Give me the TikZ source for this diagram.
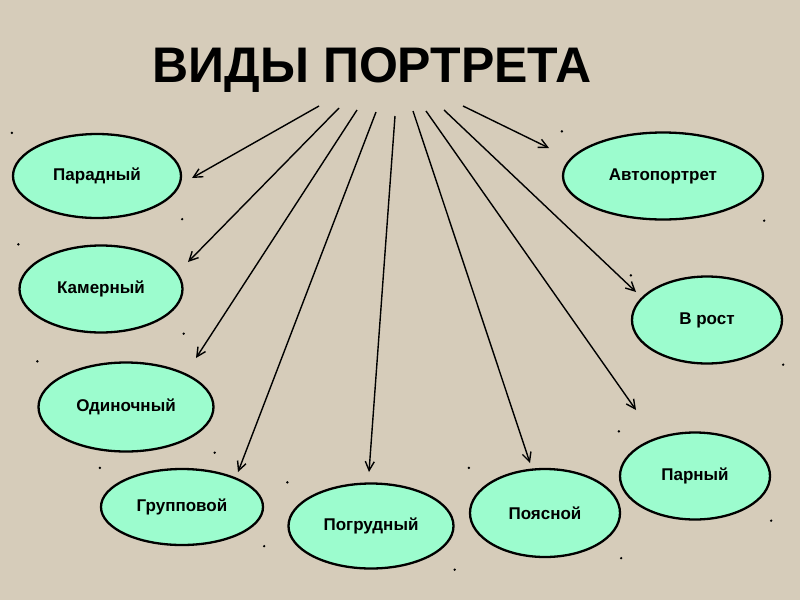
\documentclass[tikz,border=0pt]{standalone}
\usepackage{fontspec}
\setmainfont{Liberation Sans}
\usetikzlibrary{shapes.geometric,arrows.meta}
\definecolor{bgbeige}{RGB}{214,204,186}
\definecolor{aqua}{RGB}{156,252,206}
\tikzset{
  oval/.style={ellipse,draw=black,line width=2.3pt,fill=aqua,inner sep=0pt,
     font=\fontsize{17}{20}\selectfont\bfseries},
  ray/.style={draw=black,line width=1.4pt,-{Straight Barb[length=9pt,width=9pt,line width=1.4pt]}},
  handle/.style={fill=black,circle,inner sep=0pt,minimum size=2.6pt}
}
\begin{document}
\begin{tikzpicture}[x=1pt,y=-1pt]
\fill[bgbeige] (0,0) rectangle (800,600);
\useasboundingbox (0,0) rectangle (800,600);

\node[font=\fontsize{50}{58}\selectfont\bfseries] (title) at (372,70) {ВИДЫ ПОРТРЕТА};

\node[oval,minimum width=168,minimum height=84] (parad) at (97,176) {Парадный};
\node[oval,minimum width=163,minimum height=87] (kamer) at (101,289) {Камерный};
\node[oval,minimum width=175,minimum height=89] (odin) at (126,407) {Одиночный};
\node[oval,minimum width=162,minimum height=76] (grupp) at (182,507) {Групповой};
\node[oval,minimum width=165,minimum height=85] (pogr) at (371,526) {Погрудный};
\node[oval,minimum width=150,minimum height=88] (poyas) at (545,513) {Поясной};
\node[oval,minimum width=150,minimum height=87] (parn) at (695,476) {Парный};
\node[oval,minimum width=150,minimum height=87] (vrost) at (707,320) {В рост};
\node[oval,minimum width=200,minimum height=87] (avto) at (663,176) {Автопортрет};

\foreach \n in {parad,kamer,odin,grupp,pogr,poyas,parn,vrost,avto}{
  \node[handle] at (\n.west |- \n.north) {};
  \node[handle] at (\n.east |- \n.south) {};
}

\coordinate (s1) at (319,106); \coordinate (e1) at (192,178);
\coordinate (s2) at (339,108); \coordinate (e2) at (188,262);
\coordinate (s3) at (357,110); \coordinate (e3) at (196,358);
\coordinate (s4) at (376,112); \coordinate (e4) at (238,472);
\coordinate (s5) at (395,116); \coordinate (e5) at (369,472);
\coordinate (s6) at (413,111); \coordinate (e6) at (530,463);
\coordinate (s7) at (426,111); \coordinate (e7) at (636,410);
\coordinate (s8) at (444,110); \coordinate (e8) at (636,292);
\coordinate (s9) at (463,106); \coordinate (e9) at (549,148);

\foreach \i in {1,...,9}{
  \draw[ray] (s\i) -- (e\i);
}
\end{tikzpicture}
\end{document}
